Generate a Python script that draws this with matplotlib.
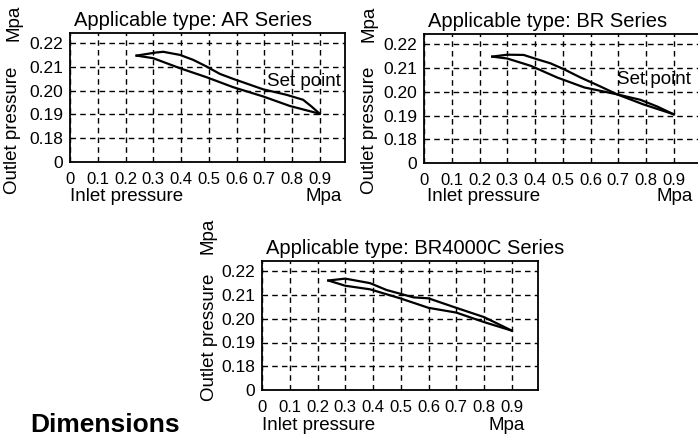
import matplotlib.pyplot as plt
import numpy as np

# AR series curves (inlet pressure vs outlet pressure, MPa)
ar_up_x = [0.24, 0.31, 0.336, 0.396, 0.444, 0.492, 0.54, 0.588, 0.696, 0.78, 0.84, 0.87, 0.90]
ar_up_y = [0.2148, 0.2161, 0.2164, 0.2151, 0.2130, 0.2102, 0.2071, 0.2050, 0.2006, 0.1983, 0.1962, 0.1934, 0.1903]
ar_lo_x = [0.24, 0.30, 0.396, 0.492, 0.588, 0.696, 0.792, 0.90]
ar_lo_y = [0.2148, 0.2137, 0.2095, 0.2057, 0.2015, 0.1976, 0.1936, 0.1903]

# BR series
br_up_x = [0.246, 0.30, 0.359, 0.407, 0.455, 0.504, 0.564, 0.636, 0.696, 0.78, 0.84, 0.90]
br_up_y = [0.2148, 0.2156, 0.2155, 0.2137, 0.2120, 0.2095, 0.2060, 0.2022, 0.1989, 0.1966, 0.1938, 0.1905]
br_lo_x = [0.246, 0.30, 0.385, 0.48, 0.578, 0.696, 0.79, 0.90]
br_lo_y = [0.2148, 0.2140, 0.2109, 0.2060, 0.2018, 0.1989, 0.1947, 0.1905]

# BR4000C series
c_up_x = [0.239, 0.30, 0.389, 0.449, 0.546, 0.60, 0.70, 0.80, 0.90]
c_up_y = [0.2161, 0.2169, 0.2150, 0.2121, 0.2090, 0.2086, 0.2046, 0.2007, 0.1950]
c_lo_x = [0.239, 0.30, 0.389, 0.498, 0.60, 0.70, 0.80, 0.90]
c_lo_y = [0.2161, 0.2139, 0.2124, 0.2086, 0.2046, 0.2026, 0.1986, 0.1950]

x_ticks = [0, 0.1, 0.2, 0.3, 0.4, 0.5, 0.6, 0.7, 0.8, 0.9]
x_labels = ["0", "0.1", "0.2", "0.3", "0.4", "0.5", "0.6", "0.7", "0.8", "0.9"]
y_ticks = [0.17, 0.18, 0.19, 0.20, 0.21, 0.22]
y_labels = ["0", "0.18", "0.19", "0.20", "0.21", "0.22"]

plt.rcParams['font.family'] = ['Liberation Sans', 'DejaVu Sans']

W, H = 698, 438
fig = plt.figure(figsize=(W / 100, H / 100), dpi=100)


def px(x, y):
    return x / W, 1 - y / H


def panel(left, top, width, height, title, up, lo, setpoint=None):
    ax = fig.add_axes([left / W, 1 - (top + height) / H, width / W, height / H])
    ax.set_xlim(0, width / 27.75 * 0.1)
    ax.set_ylim(0.17, 0.17 + height / 23.75 * 0.01)
    ax.grid(True, color='black', linestyle=(0, (4, 3)), linewidth=1.0)
    ax.set_xticks(x_ticks)
    ax.set_xticklabels(x_labels, fontsize=12)
    ax.set_yticks(y_ticks)
    ax.set_yticklabels(y_labels, fontsize=12.5)
    ax.tick_params(length=0)
    ax.tick_params(axis='x', pad=7)
    ax.tick_params(axis='y', pad=5)
    for s in ax.spines.values():
        s.set_linewidth(1.3)
    ax.plot(up[0], up[1], color='black', lw=1.6)
    ax.plot(lo[0], lo[1], color='black', lw=1.6)
    ax.text(0.015, 1.0 + 7 / height, title, transform=ax.transAxes,
            fontsize=14.5, ha='left', va='baseline')
    if setpoint is not None:
        ax.text(setpoint[0], setpoint[1], "Set point", fontsize=13.5,
                ha='left', va='center')
    return ax


panel(70, 33, 275, 129, "Applicable type: AR Series",
      (ar_up_x, ar_up_y), (ar_lo_x, ar_lo_y), (0.711, 0.2037))
panel(424, 34, 276, 129, "Applicable type: BR Series",
      (br_up_x, br_up_y), (br_lo_x, br_lo_y), (0.697, 0.2053))
panel(262, 261, 276, 129, "Applicable type: BR4000C Series",
      (c_up_x, c_up_y), (c_lo_x, c_lo_y))

# axis captions
for mx, my, ox, oy, ix, iy, rx in [(14, 23, 13, 130, 70, 197, 342),
                                   (369, 24, 369, 130, 427, 197, 693),
                                   (208, 236, 209, 337, 262, 425, 525)]:
    fig.text(*px(mx, my), "Mpa", rotation=90, fontsize=13.5, ha='center', va='center')
    fig.text(*px(ox, oy), "Outlet pressure", rotation=90, fontsize=13.5, ha='center', va='center')
    fig.text(*px(ix, iy), "Inlet pressure", fontsize=13.5, ha='left', va='center')
    fig.text(*px(rx, iy), "Mpa", fontsize=13.5, ha='right', va='center')

fig.text(*px(30, 432), "Dimensions", fontsize=19, fontweight='bold', ha='left', va='baseline')

fig.savefig("out.png", dpi=100)
